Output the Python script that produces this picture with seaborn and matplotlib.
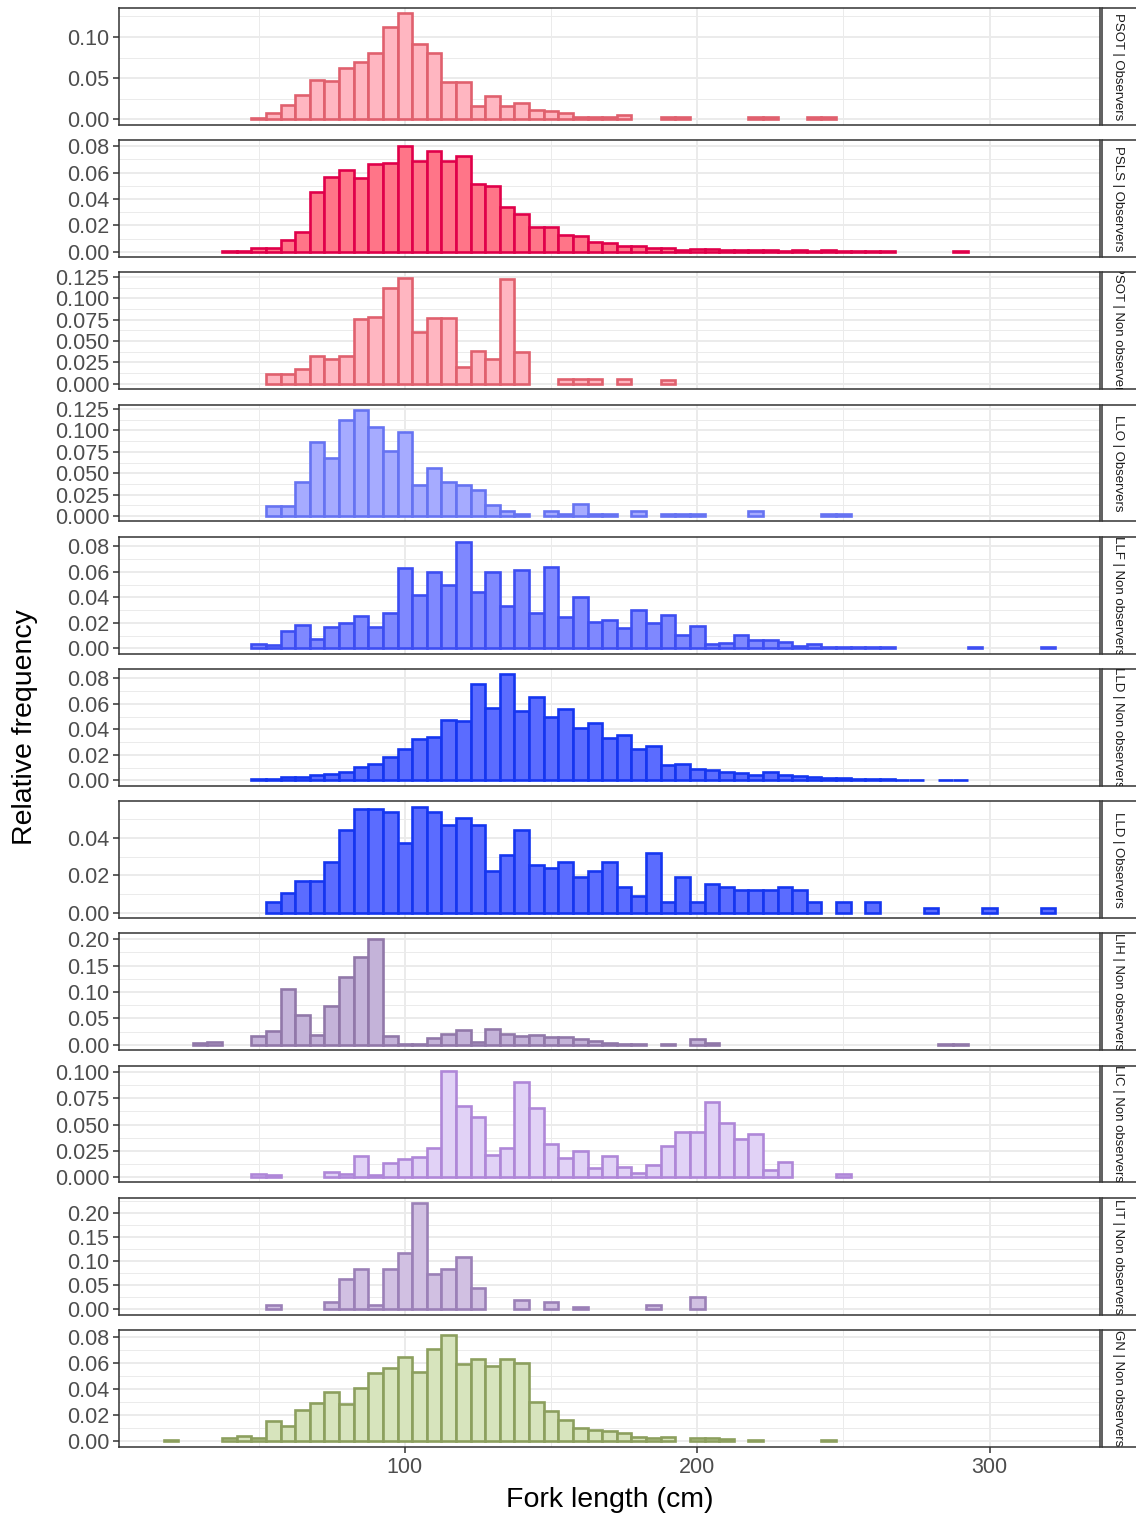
import numpy as np
import pandas as pd
import matplotlib
matplotlib.use("Agg")
import matplotlib.pyplot as plt
import seaborn as sns

# ---------------- data (relative frequency per 5 cm bin) ----------------
BIN_WIDTH = 5
PANEL_LABELS = ["PSOT | Observers", "PSLS | Observers", "PSOT | Non observers",
                "LLO | Observers", "LLF | Non observers", "LLD | Non observers",
                "LLD | Observers", "LIH | Non observers", "LIC | Non observers",
                "LIT | Non observers", "GN | Non observers"]

# first bin centre (cm) of each panel
BIN_STARTS = [50, 40, 55, 55, 50, 50, 55, 30, 50, 55, 20]

PSOT_OBS = [0.002, 0.0084, 0.018, 0.030, 0.048, 0.046, 0.062, 0.070, 0.080, 0.112,
            0.1285, 0.091, 0.080, 0.045, 0.045, 0.016, 0.028, 0.016, 0.020, 0.012,
            0.010, 0.008, 0.003, 0.003, 0.003, 0.005, 0, 0, 0.0025, 0.0025,
            0, 0, 0, 0, 0.0025, 0.0025, 0, 0, 0.0025, 0.0025]
PSLS_OBS = [0.0006, 0.0006, 0.003, 0.0025, 0.0088, 0.015, 0.045, 0.057, 0.062, 0.056,
            0.0665, 0.067, 0.0805, 0.0685, 0.0765, 0.069, 0.0725, 0.0515, 0.050, 0.034,
            0.0285, 0.019, 0.019, 0.0128, 0.012, 0.0073, 0.0068, 0.004, 0.004, 0.0025,
            0.0028, 0.0015, 0.0022, 0.0018, 0.0012, 0.0012, 0.001, 0.0012, 0.0008, 0.0012,
            0.0008, 0.0012, 0.0008, 0.0008, 0.0008, 0.0008, 0, 0, 0, 0, 0.0008]
PSOT_NOBS = [0.011, 0.011, 0.017, 0.032, 0.029, 0.032, 0.0755, 0.078, 0.1125, 0.124,
             0.061, 0.0775, 0.0775, 0.020, 0.038, 0.029, 0.122, 0.037, 0, 0,
             0.006, 0.006, 0.006, 0, 0.006, 0, 0, 0.004]
LLO_OBS = [0.0115, 0.0115, 0.040, 0.087, 0.068, 0.112, 0.124, 0.104, 0.076, 0.0985,
           0.036, 0.056, 0.040, 0.036, 0.031, 0.0135, 0.006, 0.003, 0, 0.006,
           0.003, 0.014, 0.003, 0.003, 0, 0.006, 0, 0.003, 0.003, 0.003,
           0, 0, 0, 0.006, 0, 0, 0, 0, 0.003, 0.003]
LLF_NOBS = [0.0034, 0.0023, 0.0135, 0.018, 0.0073, 0.017, 0.020, 0.0255, 0.0164, 0.0275,
            0.063, 0.042, 0.060, 0.050, 0.0834, 0.044, 0.060, 0.033, 0.0613, 0.0275,
            0.064, 0.0247, 0.040, 0.0208, 0.022, 0.016, 0.030, 0.020, 0.026, 0.0106,
            0.0174, 0.003, 0.0044, 0.0106, 0.0068, 0.0062, 0.0052, 0.002, 0.003, 0.001,
            0.001, 0.001, 0.001, 0.001, 0, 0, 0, 0, 0, 0.001,
            0, 0, 0, 0, 0.001]
LLD_NOBS = [0.0013, 0.0013, 0.003, 0.003, 0.004, 0.0047, 0.0068, 0.0104, 0.0127, 0.0187,
            0.0244, 0.0327, 0.0338, 0.0475, 0.0462, 0.0758, 0.0569, 0.0831, 0.0545, 0.065,
            0.050, 0.056, 0.041, 0.045, 0.0332, 0.0358, 0.025, 0.0273, 0.012, 0.0132,
            0.0088, 0.0086, 0.0068, 0.006, 0.0044, 0.0065, 0.0044, 0.0039, 0.0026, 0.0018,
            0.0016, 0.001, 0.0013, 0.0008, 0.0005, 0.0005, 0, 0.0005, 0.0005]
LLD_OBS = [0.0055, 0.0103, 0.0168, 0.0168, 0.027, 0.044, 0.0553, 0.0553, 0.0536, 0.037,
           0.0567, 0.0536, 0.047, 0.0506, 0.047, 0.0221, 0.0306, 0.044, 0.0255, 0.0237,
           0.027, 0.0188, 0.0221, 0.027, 0.0138, 0.0088, 0.032, 0.0055, 0.0188, 0.0055,
           0.0154, 0.0138, 0.012, 0.012, 0.012, 0.0138, 0.012, 0.0055, 0, 0.0055,
           0, 0.0055, 0, 0, 0, 0.0025, 0, 0, 0, 0.0025,
           0, 0, 0, 0.0025]
LIH_NOBS = [0.0044, 0.006, 0, 0, 0.0175, 0.026, 0.105, 0.056, 0.019, 0.074,
            0.129, 0.166, 0.201, 0.0175, 0.0025, 0.0025, 0.013, 0.021, 0.028, 0.005,
            0.030, 0.020, 0.017, 0.018, 0.014, 0.014, 0.011, 0.0075, 0.004, 0.0025,
            0.0025, 0, 0.0025, 0, 0.011, 0.003, 0, 0, 0, 0,
            0, 0, 0, 0, 0, 0, 0, 0, 0, 0,
            0, 0.0025, 0.0025]
LIC_NOBS = [0.0025, 0.0016, 0, 0, 0, 0.0053, 0.003, 0.020, 0.0016, 0.013,
            0.0175, 0.0195, 0.0275, 0.101, 0.0677, 0.0567, 0.021, 0.0275, 0.090, 0.0655,
            0.0317, 0.0185, 0.0245, 0.0088, 0.020, 0.010, 0.0038, 0.0113, 0.0295, 0.0426,
            0.0426, 0.0718, 0.0514, 0.0364, 0.0408, 0.0063, 0.0144, 0, 0, 0,
            0.0025]
LIT_NOBS = [0.009, 0, 0, 0, 0.016, 0.064, 0.0835, 0.009, 0.0835, 0.118,
            0.221, 0.074, 0.0835, 0.108, 0.044, 0, 0, 0.019, 0, 0.015,
            0, 0.0055, 0, 0, 0, 0, 0.009, 0, 0, 0.025]
GN_NOBS = [0.001, 0, 0, 0, 0.0023, 0.004, 0.0025, 0.0155, 0.0117, 0.024,
           0.0296, 0.038, 0.0285, 0.0413, 0.0522, 0.0563, 0.0652, 0.0532, 0.0713, 0.0815,
           0.0594, 0.0632, 0.0583, 0.0632, 0.0599, 0.0303, 0.0237, 0.0166, 0.010, 0.0087,
           0.0084, 0.0064, 0.0036, 0.0023, 0.0033, 0, 0.0025, 0.0025, 0.0018, 0,
           0.0015, 0, 0, 0, 0, 0.0015]

PANEL_VALUES = [PSOT_OBS, PSLS_OBS, PSOT_NOBS, LLO_OBS, LLF_NOBS, LLD_NOBS,
                LLD_OBS, LIH_NOBS, LIC_NOBS, LIT_NOBS, GN_NOBS]

Y_TICK_STEP = [0.05, 0.02, 0.025, 0.025, 0.02, 0.02, 0.02, 0.05, 0.025, 0.05, 0.02]
Y_TICK_DECIMALS = [2, 2, 3, 3, 2, 2, 2, 2, 3, 2, 2]
X_TICKS = [100, 200, 300]
X_MINOR = [50, 150, 250]

# ---------------- styles ----------------
FILLS = ["#FFB6C1", "#FF7588", "#FFB6C1", "#A6ABFF", "#7F88FF", "#5B6CFF",
         "#5B6CFF", "#C4B3D9", "#E1D2F6", "#D1C0E2", "#D7E4BD"]
EDGES = ["#E0606E", "#E0004A", "#E0606E", "#6673F2", "#3D4EF2", "#1536F0",
         "#1536F0", "#9178A9", "#AF87D8", "#9B80B7", "#8C9F5E"]

sns.set_theme(style="white")
plt.rcParams['font.family'] = ['Liberation Sans', 'DejaVu Sans']

W, H = 1136, 1514
fig = plt.figure(figsize=(W / 100, H / 100), dpi=100)

LEFT, RIGHT = 119, 1100
TOP0, PITCH, PH = 8, 132.2, 116.8

# common x range (ggplot style 5% expansion)
all_lo = min(s - BIN_WIDTH / 2 for s in BIN_STARTS)
all_hi = max(s + BIN_WIDTH * (len(v) - 1) + BIN_WIDTH / 2 for s, v in zip(BIN_STARTS, PANEL_VALUES))
pad = 0.05 * (all_hi - all_lo)
XLIM = (all_lo - pad, all_hi + pad)

BORDER = "#333333"
GRID = "#EBEBEB"

n = len(PANEL_LABELS)
for i in range(n):
    t = TOP0 + i * PITCH
    ax = fig.add_axes([LEFT / W, 1 - (t + PH) / H, (RIGHT - LEFT) / W, PH / H])
    vals = np.array(PANEL_VALUES[i], dtype=float)
    centers = BIN_STARTS[i] + BIN_WIDTH * np.arange(len(vals))
    edges = [float(e) for e in np.arange(centers[0] - BIN_WIDTH / 2,
                                         centers[-1] + BIN_WIDTH / 2 + 0.01, BIN_WIDTH)]
    df = pd.DataFrame({"length": centers, "freq": vals})
    sns.histplot(data=df, x="length", weights="freq", bins=edges, ax=ax, color=FILLS[i],
                 edgecolor=EDGES[i], linewidth=1.9, alpha=1, zorder=3)
    for p in list(ax.patches):
        if p.get_height() <= 0:
            p.remove()
    ymax = vals.max()
    ax.set_ylim(-0.05 * ymax, 1.05 * ymax)
    ax.set_xlim(*XLIM)
    step = Y_TICK_STEP[i]
    yt = np.arange(0, 1.05 * ymax + 1e-9, step)
    ax.set_yticks(yt)
    ax.set_yticklabels([f"{v:.{Y_TICK_DECIMALS[i]}f}" for v in yt])
    ym = np.arange(step / 2, 1.05 * ymax, step)
    ax.set_yticks(ym, minor=True)
    ax.set_xticks(X_TICKS)
    ax.set_xticks(X_MINOR, minor=True)
    ax.set_axisbelow(True)
    ax.grid(which="major", color=GRID, linewidth=1.4)
    ax.grid(which="minor", color=GRID, linewidth=0.7)
    ax.set_xlabel("")
    ax.set_ylabel("")
    for s in ax.spines.values():
        s.set_color(BORDER)
        s.set_linewidth(1.1)
        s.set_visible(True)
    ax.tick_params(axis="y", which="major", left=True, length=4, width=1.1, color=BORDER,
                   labelsize=15.5, labelcolor="#4D4D4D", pad=3)
    ax.tick_params(which="minor", length=0)
    if i == n - 1:
        ax.tick_params(axis="x", which="major", bottom=True, length=4, width=1.1, color=BORDER,
                       labelsize=15.5, labelcolor="#4D4D4D", pad=3)
    else:
        ax.tick_params(axis="x", which="major", bottom=False, labelbottom=False)

    # facet strip on the right
    sax = fig.add_axes([1102 / W, 1 - (t + PH) / H, 40 / W, PH / H])
    sax.set_xticks([])
    sax.set_yticks([])
    sax.set_facecolor("white")
    for s in sax.spines.values():
        s.set_color(BORDER)
        s.set_linewidth(1.1)
        s.set_visible(True)
    sax.text(0.4, 0.5, PANEL_LABELS[i], rotation=-90, ha="center", va="center",
             transform=sax.transAxes, clip_on=True, fontsize=9.5, color="#1A1A1A")

fig.text(25 / W, 1 - ((TOP0 + TOP0 + (n - 1) * PITCH + PH) / 2) / H, "Relative frequency",
         rotation=90, ha="center", va="center", fontsize=20.5, color="black")
fig.text(((LEFT + RIGHT) / 2) / W, 1 - 1500 / H, "Fork length (cm)",
         ha="center", va="center", fontsize=20.5, color="black")

fig.savefig("out.png", dpi=100)
